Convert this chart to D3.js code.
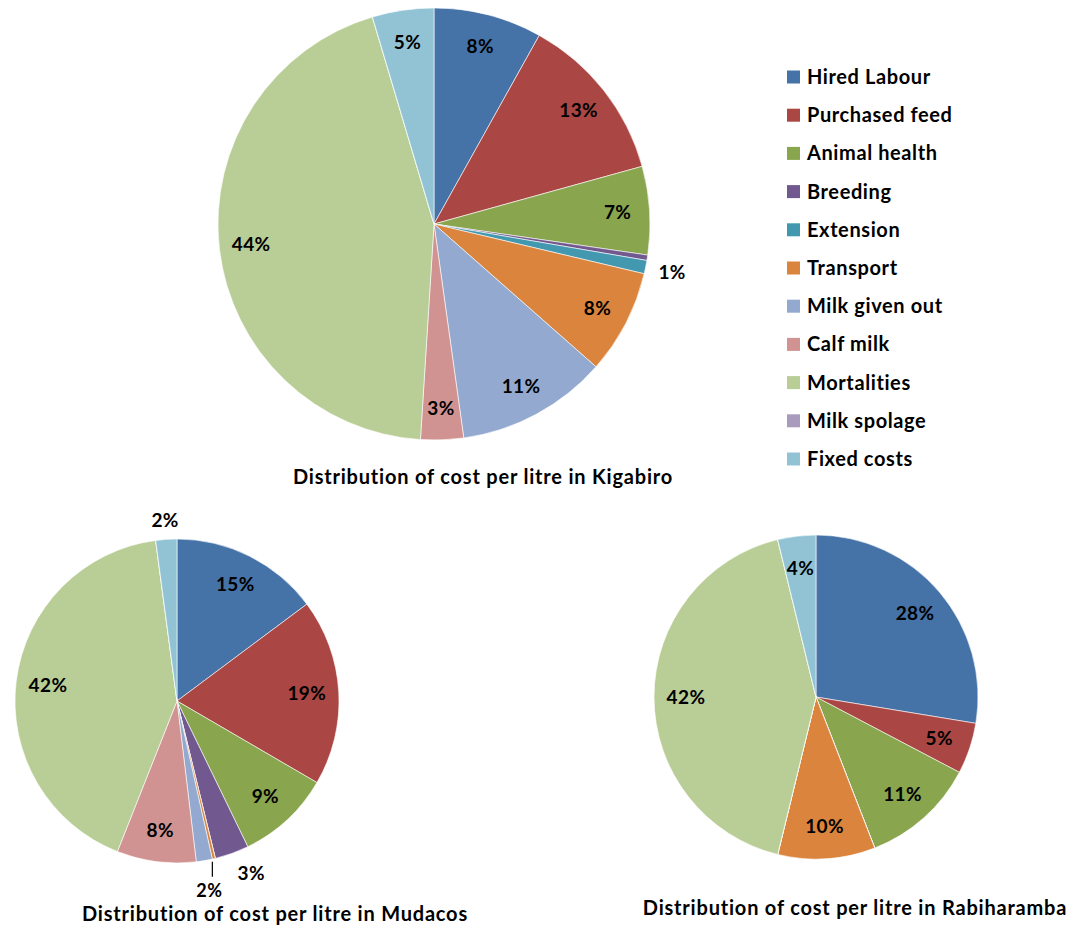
<!DOCTYPE html>
<html><head><meta charset="utf-8">
<script src="https://cdn.jsdelivr.net/npm/d3@7"></script>
<style>
body{margin:0;background:#fff;}
text{font-family:Lato,"Open Sans",sans-serif;font-weight:bold;fill:#000;}
</style></head>
<body>
<svg id="chart" width="1076" height="928"></svg>
<script>
const categories = ["Hired Labour","Purchased feed","Animal health","Breeding","Extension","Transport","Milk given out","Calf milk","Mortalities","Milk spolage","Fixed costs"];
const colors = ["#4572A7","#AA4643","#89A54E","#71588F","#4198AF","#DB843D","#93A9CF","#D19392","#B9CD96","#A99BBD","#92C3D5"];
const kigabiro    = [8.1, 12.6, 6.6, 0.4, 1.0, 7.8, 11.3, 3.2, 44.4, 0, 4.6];
const mudacos     = [14.8, 18.6, 9.4, 3.4, 0, 0.3, 1.6, 7.9, 41.9, 0, 2.1];
const rabiharamba = [27.6, 5.1, 11.4, 0, 0, 9.7, 0, 0, 42.4, 0, 3.8];
const titles = ["Distribution of cost per litre in Kigabiro","Distribution of cost per litre in Mudacos","Distribution of cost per litre in Rabiharamba"];

const svg = d3.select("#chart");

const charts = [
  {values:kigabiro, cx:434, cy:224, r:216, title:titles[0], tx:483, ty:484,
   outside:{4:{off:27}}},
  {values:mudacos, cx:177, cy:701, r:162, title:titles[1], tx:275, ty:921,
   outside:{3:{off:26, da:-0.06}, 10:{off:19}, 6:{leader:true}}},
  {values:rabiharamba, cx:816, cy:697, r:162, title:titles[2], tx:855, ty:915, outside:{}}
];

const labelStyle = sel => sel.style("font-size","19px").style("letter-spacing","0.4px");

charts.forEach(ch => {
  const pie = d3.pie().sort(null).value(d => d)(ch.values);
  const arc = d3.arc().innerRadius(0).outerRadius(ch.r);
  const g = svg.append("g").attr("transform", `translate(${ch.cx},${ch.cy})`);
  g.selectAll("path").data(pie).join("path")
    .attr("d", arc)
    .attr("fill", (d,i) => colors[i])
    .attr("stroke", "#fff").attr("stroke-width", 0.6);
  const total = d3.sum(ch.values);
  pie.forEach((d,i) => {
    const pct = Math.round(d.data / total * 100);
    if (pct === 0) return;
    const label = pct + "%";
    const opt = ch.outside[i];
    let a = (d.startAngle + d.endAngle)/2;
    let rr = ch.r - 32;
    if (opt && opt.leader) {
      const x = Math.sin(a)*ch.r + 8, y0 = -Math.cos(a)*ch.r;
      g.append("line").attr("x1", x).attr("x2", x).attr("y1", y0 + 1).attr("y2", y0 + 16)
        .attr("stroke", "#000").attr("stroke-width", 1.2);
      g.append("text").attr("x", x - 3).attr("y", y0 + 30).attr("text-anchor","middle")
        .attr("dy","0.35em").style("font-size","18px").style("letter-spacing","0.4px").text(label);
      return;
    }
    if (opt) { rr = ch.r + opt.off; a += (opt.da || 0); }
    g.append("text")
      .attr("x", Math.sin(a)*rr).attr("y", -Math.cos(a)*rr)
      .attr("text-anchor","middle").attr("dy","0.35em")
      .call(labelStyle).text(label);
  });
  svg.append("text").attr("x", ch.tx).attr("y", ch.ty).attr("text-anchor","middle")
    .style("font-size","20px").style("letter-spacing","0.8px").text(ch.title);
});

const leg = svg.append("g").attr("transform","translate(787,77)");
categories.forEach((c,i) => {
  const row = leg.append("g").attr("transform", `translate(0,${i*38.2})`);
  row.append("rect").attr("x",0).attr("y",-6.5).attr("width",13).attr("height",13).attr("fill",colors[i]);
  row.append("text").attr("x",20).attr("y",0).attr("dy","0.35em")
    .style("font-size","20px").style("letter-spacing","0.6px").text(c);
});
</script>
</body></html>
